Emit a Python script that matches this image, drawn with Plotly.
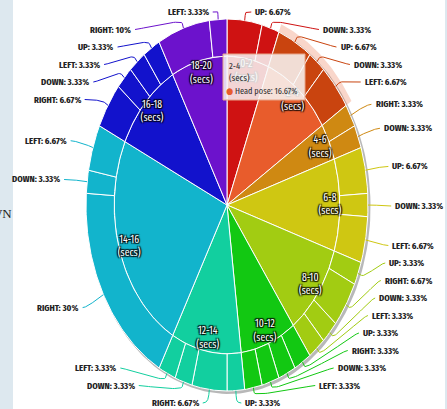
import numpy as np
import plotly.graph_objects as go

# time bins (inner ring) and head pose shares (outer ring)
time_bins = ["0-2", "2-4", "4-6", "6-8", "8-10", "10-12", "12-14", "14-16", "16-18", "18-20"]

pose_bin = ["0-2", "0-2",
            "2-4", "2-4", "2-4",
            "4-6", "4-6",
            "6-8", "6-8", "6-8",
            "8-10", "8-10", "8-10", "8-10",
            "10-12", "10-12", "10-12", "10-12",
            "12-14", "12-14", "12-14", "12-14",
            "14-16", "14-16", "14-16",
            "16-18", "16-18", "16-18", "16-18",
            "18-20", "18-20"]
pose_name = ["UP", "DOWN",
             "UP", "DOWN", "LEFT",
             "RIGHT", "DOWN",
             "UP", "DOWN", "LEFT",
             "UP", "RIGHT", "DOWN", "LEFT",
             "UP", "RIGHT", "DOWN", "LEFT",
             "UP", "RIGHT", "DOWN", "LEFT",
             "RIGHT", "DOWN", "LEFT",
             "RIGHT", "DOWN", "LEFT", "UP",
             "RIGHT", "LEFT"]
pose_pct = [6.67, 3.33,
            6.67, 3.33, 6.67,
            3.33, 3.33,
            6.67, 3.33, 6.67,
            3.33, 6.67, 3.33, 3.33,
            3.33, 3.33, 3.33, 3.33,
            3.33, 6.67, 3.33, 3.33,
            30, 3.33, 6.67,
            6.67, 3.33, 3.33, 3.33,
            10, 3.33]

bin_color = ["#cf1212", "#e85c2c", "#cf8912", "#cfc712", "#a2cc12",
             "#12c812", "#12cf9f", "#12b4cc", "#1212cc", "#6c12cc"]
ring_color = ["#cf1212", "#c9440f", "#cf8912", "#cfc712", "#a2cc12",
              "#12c812", "#12cf9f", "#12b4cc", "#1212cc", "#6c12cc"]

NARROW = "Fira Sans Extra Condensed, Roboto Condensed, PT Sans Narrow, DejaVu Sans Condensed, sans-serif"

W, H = 447, 409
CX, CY, RX, RY = 227, 205, 141, 186   # pie centre / radii in pixels
R_IN = 0.8

def px2paper(x, y):
    return x / W, 1 - y / H

vals = np.array(pose_pct, dtype=float)
total = vals.sum()
edges = np.concatenate([[0], np.cumsum(vals)]) / total * 2 * np.pi
mid = (edges[:-1] + edges[1:]) / 2
bin_idx = [time_bins.index(b) for b in pose_bin]
bin_vals = np.array([vals[[i for i, b in enumerate(bin_idx) if b == k]].sum() for k in range(len(time_bins))])
bin_edges = np.concatenate([[0], np.cumsum(bin_vals)]) / total * 2 * np.pi


def wedge(a0, a1, r0, r1, n=60):
    t = np.linspace(a0, a1, n)
    xs = list(r1 * np.sin(t))
    ys = list(r1 * np.cos(t))
    if r0 == 0:
        xs = [0] + xs + [0]
        ys = [0] + ys + [0]
    else:
        xs += list(r0 * np.sin(t[::-1])) + [xs[0]]
        ys += list(r0 * np.cos(t[::-1])) + [ys[0]]
    return xs, ys


fig = go.Figure()

# soft shadow around the pie
sx, sy = wedge(0, 2 * np.pi, 0, 1.006, 200)
fig.add_trace(go.Scatter(x=np.array(sx) + 0.012, y=np.array(sy) - 0.01, mode="lines", fill="toself",
                         fillcolor="rgba(0,0,0,0.28)", line=dict(width=0), hoverinfo="skip"))

# halo for the hovered 2-4 bin
k = time_bins.index("2-4")
hx, hy = wedge(bin_edges[k], bin_edges[k + 1], 1.0, 1.045)
fig.add_trace(go.Scatter(x=hx, y=hy, mode="lines", fill="toself", fillcolor="rgba(232,92,44,0.25)",
                         line=dict(width=0), hoverinfo="skip"))

# inner ring
for k in range(len(time_bins)):
    x, y = wedge(bin_edges[k], bin_edges[k + 1], 0, R_IN)
    fig.add_trace(go.Scatter(x=x, y=y, mode="lines", fill="toself", fillcolor=bin_color[k],
                             line=dict(color="white", width=1), hoverinfo="skip"))

# outer ring
for i in range(len(vals)):
    x, y = wedge(edges[i], edges[i + 1], R_IN, 1.0)
    fig.add_trace(go.Scatter(x=x, y=y, mode="lines", fill="toself", fillcolor=ring_color[bin_idx[i]],
                             line=dict(color="white", width=1), hoverinfo="skip"))

# inner labels
bmid = (bin_edges[:-1] + bin_edges[1:]) / 2
fig.add_trace(go.Scatter(
    x=0.73 * np.sin(bmid), y=0.73 * np.cos(bmid), mode="text",
    text=[f"{b}<br>(secs)" for b in time_bins],
    textfont=dict(family=NARROW, size=10.5, color="white",
                  shadow="1px 1px 1px #000, -1px -1px 1px #000, 1px -1px 1px #000, -1px 1px 1px #000"),
    hoverinfo="skip"))

# outer labels, spread out on both sides like the original
L = 211 / RY
GAP = 17.5 / RY
TOP, BOTTOM = (CY - 12) / RY, (CY - 403) / RY
nat = L * np.cos(mid) - 0.005
annotations = []
for sgn in (1, -1):
    idx = [i for i in range(len(vals)) if (mid[i] < np.pi) == (sgn > 0)]
    idx.sort(key=lambda i: -nat[i])
    ys = [nat[i] for i in idx]
    ys[0] = min(ys[0], TOP)
    for j in range(1, len(ys)):
        ys[j] = min(ys[j], ys[j - 1] - GAP)
    ys[-1] = max(ys[-1], BOTTOM)
    for j in range(len(ys) - 2, -1, -1):
        ys[j] = max(ys[j], ys[j + 1] + GAP)
    for j, i in enumerate(idx):
        y = ys[j]
        if j == 0 or j == len(idx) - 1:
            x0 = L * abs(np.sin(mid[i]))
        else:
            x0 = np.sqrt(max(L ** 2 - (y + 0.005) ** 2, 0))
        p4 = np.array([np.sin(mid[i]), np.cos(mid[i])])
        p2 = p4 * (1 + 0.027)
        c2 = p4 * (1 + 0.054)
        s = np.array([sgn * (x0 + 0.03), y])
        c1 = np.array([sgn * x0, y])
        t = np.linspace(0, 1, 30)[:, None]
        bez = ((1 - t) ** 3) * s + 3 * ((1 - t) ** 2) * t * c1 + 3 * (1 - t) * t ** 2 * c2 + t ** 3 * p2
        lx = list(bez[:, 0]) + [p4[0]]
        ly = list(bez[:, 1]) + [p4[1]]
        fig.add_trace(go.Scatter(x=lx, y=ly, mode="lines", line=dict(color=ring_color[bin_idx[i]], width=1),
                                 hoverinfo="skip"))
        annotations.append(dict(
            x=sgn * (x0 + 0.045), y=y, xref="x", yref="y", showarrow=False,
            xanchor="left" if sgn > 0 else "right", yanchor="middle",
            text=f"{pose_name[i]}: {pose_pct[i]:g}%",
            font=dict(family=NARROW, size=9.5, color="#222", weight="bold")))

# tooltip
tx0, ty0 = px2paper(223, 54)
tx1, ty1 = px2paper(305, 100)
shapes = [
    dict(type="rect", xref="paper", yref="paper", x0=0, x1=13 / W, y0=0, y1=1,
         fillcolor="#dde8ef", line=dict(width=0), layer="below"),
    dict(type="rect", xref="paper", yref="paper", x0=445 / W, x1=1, y0=0, y1=1,
         fillcolor="#dde8ef", line=dict(width=0), layer="below"),
    dict(type="rect", xref="paper", yref="paper", x0=tx0, x1=tx1, y0=ty0, y1=ty1,
         fillcolor="rgba(248,248,248,0.85)", line=dict(color="#e8a488", width=1), layer="above"),
]
ax, ay = px2paper(227, 58)
annotations.append(dict(x=ax, y=ay, xref="paper", yref="paper", showarrow=False, xanchor="left", yanchor="top",
                        align="left", text="2-4<br>(secs)",
                        font=dict(family=NARROW, size=9.5, color="#333")))
ax, ay = px2paper(224, 91)
annotations.append(dict(x=ax, y=ay, xref="paper", yref="paper", showarrow=False, xanchor="left", yanchor="middle",
                        align="left",
                        text=f"<span style='color:{bin_color[1]}'>●</span> Head pose: {bin_vals[1]:.2f}%",
                        font=dict(family=NARROW, size=9, color="#333")))
# cut-off heading text behind the chart
ax, ay = px2paper(14, 213)
annotations.append(dict(x=ax, y=ay, xref="paper", yref="paper", showarrow=False, xanchor="right", yanchor="middle",
                        text="WN", font=dict(family="Liberation Serif, DejaVu Serif, serif", size=13,
                                             color="#222")))

fig.update_layout(
    width=W, height=H,
    margin=dict(l=0, r=0, t=0, b=0),
    paper_bgcolor="white", plot_bgcolor="rgba(0,0,0,0)",
    showlegend=False,
    xaxis=dict(range=[-CX / RX, (W - CX) / RX], visible=False, fixedrange=True),
    yaxis=dict(range=[(CY - H) / RY, CY / RY], visible=False, fixedrange=True),
    shapes=shapes,
    annotations=annotations,
)

fig.write_html("out.html", config={"displayModeBar": False},
               post_script="document.body.style.margin='0px';")
